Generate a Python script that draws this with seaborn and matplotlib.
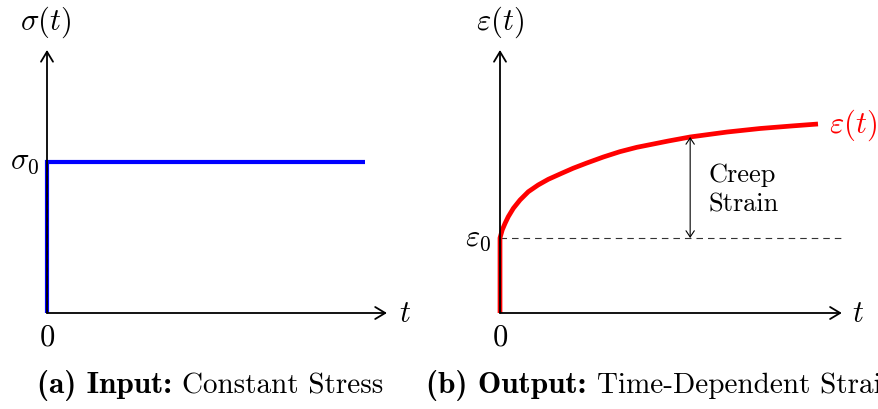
import matplotlib
matplotlib.use("Agg")
import matplotlib.pyplot as plt
import seaborn as sns

# Panel (a): constant stress step applied at t = 0
stress_t = [0, 0, 10]
stress_sigma = [0, 1, 1]

# Panel (b): strain response (instant elastic jump, then creep)
strain_t = [0, 0, 0.07, 0.16, 0.26, 0.42, 0.63, 0.89, 1.2, 1.52, 1.94, 2.3,
            2.73, 3.25, 3.77, 4.3, 4.82, 5.29, 5.98, 7.14, 8.18, 9.21, 10.0]
strain_eps = [0, 1.0, 1.107, 1.196, 1.284, 1.396, 1.507, 1.617, 1.707, 1.783,
              1.863, 1.93, 2.0, 2.08, 2.151, 2.209, 2.253, 2.293, 2.347,
              2.413, 2.46, 2.495, 2.52]
creep_index = 18          # sample where the creep-strain bracket is drawn

captions = [("(a) Input:", "Constant Stress"),
            ("(b) Output:", "Time-Dependent Strain")]

sns.set_theme(style="white")
plt.rcParams["font.family"] = ["cmr10"]
plt.rcParams["mathtext.fontset"] = "cm"
plt.rcParams["axes.formatter.use_mathtext"] = True
plt.rcParams["lines.scale_dashes"] = False
plt.rcParams["text.color"] = "black"

W, H = 879, 409
fig = plt.figure(figsize=(W / 100, H / 100), dpi=100)


def px(x, y):
    return x / W, (H - y) / H


def panel(ox, oy, sx, sy):
    left, right, top, bottom = ox - 30, ox + 365, 40, oy + 20
    ax = fig.add_axes([left / W, (H - bottom) / H, (right - left) / W,
                       (bottom - top) / H])
    ax.set_xlim((left - ox) / sx, (right - ox) / sx)
    ax.set_ylim((oy - bottom) / sy, (oy - top) / sy)
    ax.set_axis_off()
    return ax


axis_arrow = dict(arrowstyle="->,head_length=0.4,head_width=0.24",
                  lw=1.3, color="black", shrinkA=0, shrinkB=0,
                  mutation_scale=18)


def draw_axes(ax, xmax, ymax):
    ax.annotate("", xy=(xmax, 0), xytext=(0, 0), arrowprops=axis_arrow)
    ax.annotate("", xy=(0, ymax), xytext=(0, 0), arrowprops=axis_arrow)


math_fs = 22

# ---- (a) input stress ----
ax1 = panel(47, 313, 31.8, 151)
draw_axes(ax1, 10.69, 1.742)
sns.lineplot(x=stress_t, y=stress_sigma, ax=ax1, color="#0000ff", lw=3.0,
             sort=False, estimator=None)
ax1.lines[-1].set_solid_joinstyle("miter")
ax1.lines[-1].set_solid_capstyle("butt")
ax1.plot([0, 0], [0, stress_sigma[1]], color="black", lw=0.6,
         dashes=(3, 3))

fig.text(*px(46, 22), r"$\sigma(t)$", fontsize=math_fs, ha="center", va="center")
fig.text(*px(39, 162), r"$\sigma_0$", fontsize=math_fs, ha="right", va="center")
fig.text(*px(47, 338), r"$0$", fontsize=math_fs, ha="center", va="center")
fig.text(*px(405, 314), r"$t$", fontsize=math_fs, ha="center", va="center")

# ---- (b) output strain ----
ax2 = panel(500, 313, 31.8, 75)
draw_axes(ax2, 10.75, 3.507)
eps0 = strain_eps[1]
ax2.plot([0, 10.78], [eps0, eps0], color="#333333", lw=0.8, dashes=(4.7, 3.6))
sns.lineplot(x=strain_t, y=strain_eps, ax=ax2, color="#ff0000", lw=3.4,
             sort=False, estimator=None)
ax2.lines[-1].set_solid_capstyle("butt")
ax2.lines[-1].set_solid_joinstyle("round")
ax2.annotate("", xy=(strain_t[creep_index], strain_eps[creep_index]),
             xytext=(strain_t[creep_index], eps0),
             arrowprops=dict(arrowstyle="<->,head_length=0.45,head_width=0.3",
                             lw=0.8, color="black", shrinkA=0, shrinkB=0,
                             mutation_scale=10))

fig.text(*px(500, 22), r"$\varepsilon(t)$", fontsize=math_fs, ha="center", va="center")
fig.text(*px(491, 239), r"$\varepsilon_0$", fontsize=math_fs, ha="right", va="center")
fig.text(*px(500, 338), r"$0$", fontsize=math_fs, ha="center", va="center")
fig.text(*px(858, 314), r"$t$", fontsize=math_fs, ha="center", va="center")
fig.text(*px(829, 125), r"$\varepsilon(t)$", fontsize=math_fs, ha="left",
         va="center", color="#ff0000")
fig.text(*px(709, 182), "Creep", fontsize=19, ha="left", va="baseline")
fig.text(*px(709, 212), "Strain", fontsize=19, ha="left", va="baseline")

# ---- captions: bold lead-in followed by regular text ----
renderer = fig.canvas.get_renderer()
cap_fs = 21
bold_fs = 22.5
for (bold, rest), x0 in zip(captions, [37, 426]):
    t1 = fig.text(*px(x0, 393), bold, fontsize=bold_fs, family="cmb10",
                  ha="left", va="baseline")
    w1 = t1.get_window_extent(renderer).width
    fig.text(*px(x0 + w1 + 0.36 * cap_fs / 0.72, 393), rest, fontsize=cap_fs,
             family="cmr10", ha="left", va="baseline")

fig.savefig("out.png", dpi=100)
